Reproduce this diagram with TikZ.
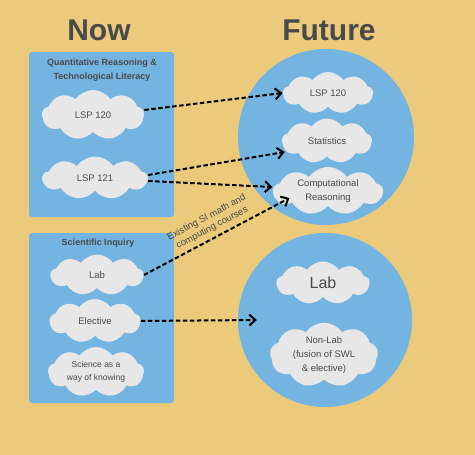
\documentclass[tikz,border=0pt]{standalone}
\usepackage{fontspec}
\setmainfont{Liberation Sans}
\usetikzlibrary{arrows.meta, shapes.symbols}

\definecolor{sand}{HTML}{EBCB7B}
\definecolor{sky}{HTML}{74B4E0}
\definecolor{puff}{HTML}{E7E7E7}
\definecolor{ink}{HTML}{4A4A4A}

\begin{document}
\begin{tikzpicture}[x=1pt, y=-1pt,
  panel/.style={fill=sky, rounded corners=3pt},
  cloudbox/.style={cloud, cloud puffs=9, cloud puff arc=110, cloud ignores aspect,
                   fill=puff, text=ink, font=\fontsize{9.5}{12}\selectfont,
                   align=center, inner sep=0pt},
  head/.style={text=ink, font=\fontsize{30}{32}\selectfont\bfseries},
  boxtitle/.style={text=ink, font=\fontsize{9}{14}\selectfont\bfseries, align=center},
  arr/.style={-{Straight Barb[length=6pt, width=11pt]}, line width=2pt,
              dash pattern=on 4.5pt off 2.5pt}
]
  \fill[sand] (0,0) rectangle (475,455);

  \node[head] (now) at (99,30) {Now};
  \node[head] (future) at (329,30.5) {Future};

  % now: two panels
  \fill[panel] (29,52) rectangle (174,217);
  \fill[panel] (29,233) rectangle (174,403);
  \node[boxtitle] (qrtl) at (102,70) {Quantitative Reasoning \&\\Technological Literacy};
  \node[boxtitle] (si) at (98,243) {Scientific Inquiry};

  \node[cloudbox, minimum width=102pt, minimum height=50pt] (n120) at (93,115) {LSP 120};
  \node[cloudbox, minimum width=105pt, minimum height=43pt] (n121) at (95,178) {LSP 121};
  \node[cloudbox, minimum width=93pt, minimum height=41pt] (nlab) at (97,275) {Lab};
  \node[cloudbox, minimum width=91pt, minimum height=44pt] (nelec) at (95,321) {Elective};
  \node[cloudbox, minimum width=96pt, minimum height=50pt,
        font=\fontsize{8.5}{13}\selectfont] (nsci) at (96,372) {Science as a\\way of knowing};

  % future: two circles
  \node[circle, fill=sky, minimum size=176pt, inner sep=0pt] (top) at (326,137) {};
  \node[circle, fill=sky, minimum size=174pt, inner sep=0pt] (bot) at (325,320) {};

  \node[cloudbox, minimum width=90pt, minimum height=42pt] (f120) at (328,93) {LSP 120};
  \node[cloudbox, minimum width=90pt, minimum height=45pt] (fstat) at (327,141) {Statistics};
  \node[cloudbox, minimum width=110pt, minimum height=48pt,
        font=\fontsize{9.5}{13.5}\selectfont] (fcomp) at (328,191) {Computational\\Reasoning};
  \node[cloudbox, minimum width=93pt, minimum height=43pt,
        font=\fontsize{16}{18}\selectfont] (flab) at (323,283) {Lab};
  \node[cloudbox, minimum width=108pt, minimum height=64pt,
        font=\fontsize{9.5}{14}\selectfont] (fnon) at (324,355)
    {Non-Lab\\(fusion of SWL\\\& elective)};

  \draw[arr] ([yshift=5pt]n120.east) -- (f120.west);
  \draw[arr] ([yshift=3pt]n121.east) -- ([xshift=3pt, yshift=-11pt]fstat.west);
  \draw[arr] ([yshift=-3pt]n121.east) -- ([yshift=4pt]fcomp.west);
  \draw[arr] (nlab.east) -- node[sloped, above=1pt, text=ink, align=center,
      font=\fontsize{9.5}{11.5}\selectfont] {Existing SI math and\\computing courses}
    ([xshift=17pt, yshift=-7pt]fcomp.west);
  \draw[arr] (nelec.east) -- ([xshift=19pt]bot.west);
\end{tikzpicture}
\end{document}
